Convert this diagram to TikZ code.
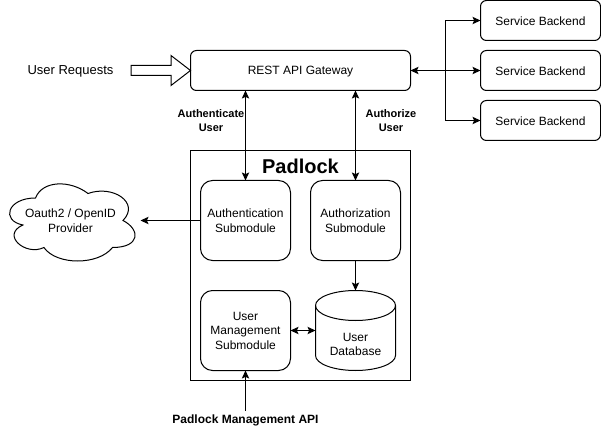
\documentclass[tikz,border=0pt]{standalone}
\usepackage{fontspec}
\setmainfont{Liberation Sans}
\usetikzlibrary{arrows.meta}
\tikzset{
  x=0.75pt,y=-0.75pt,
  every node/.style={inner sep=0pt,outer sep=0pt,align=center,font=\fontsize{9}{10.9}\selectfont},
  boxtext/.style={execute at begin node={\rule{0pt}{8pt}}},
  smallbox/.style={boxtext,draw=black,line width=0.75pt,rounded corners=4.5pt,minimum width=90pt,minimum height=30pt},
  subbox/.style={boxtext,draw=black,line width=0.75pt,rounded corners=9pt,minimum width=67.5pt,minimum height=60pt},
  gatewaybox/.style={boxtext,draw=black,line width=0.75pt,rounded corners=4.5pt,minimum width=165pt,minimum height=30pt},
  framebox/.style={draw=black,line width=0.75pt,minimum width=165pt,minimum height=172.5pt},
  shapeline/.style={draw=black,line width=0.75pt},
  link/.style={draw=black,line width=0.75pt,-{Stealth[length=6pt,width=5.5pt,inset=1.2pt]}},
  duplex/.style={draw=black,line width=0.75pt,{Stealth[length=6pt,width=5.5pt,inset=1.2pt]}-{Stealth[length=6pt,width=5.5pt,inset=1.2pt]}},
  branch/.style={draw=black,line width=0.75pt,-{Stealth[length=6pt,width=5.5pt,inset=1.2pt]},rounded corners=0pt},
  boldlabel/.style={font=\fontsize{8.25}{9.9}\selectfont\bfseries},
}
\begin{document}
\begin{tikzpicture}
\useasboundingbox (-0.5,-0.5) rectangle (600.5,427.5);
\fill[white] (-0.5,-0.5) rectangle (600.5,427.5);

\node[framebox] (padlock) at (300,265) {};
\node[font=\fontsize{15}{18}\selectfont\bfseries] (padlocktitle) at (300,166) {Padlock};

\node[gatewaybox] (gateway) at (300,70) {REST API Gateway};
\node[smallbox] (svc1) at (540,20) {Service Backend};
\node[smallbox] (svc2) at (540,70) {Service Backend};
\node[smallbox] (svc3) at (540,120) {Service Backend};

\node[subbox] (authn) at (245,220) {Authentication\\Submodule};
\node[subbox] (authz) at (355,220) {Authorization\\Submodule};
\node[subbox] (mgmt) at (245,330) {User\\Management\\Submodule};

% cylinder
\path[shapeline,fill=white] (315,305) -- (315,355) arc[start angle=180,end angle=360,x radius=40,y radius=-15]
  -- (395,305) arc[start angle=0,end angle=180,x radius=40,y radius=-15] -- cycle;
\path[shapeline] (315,305) arc[start angle=180,end angle=360,x radius=40,y radius=-15];
\node[minimum width=60pt,minimum height=60pt] (dbbox) at (355,330) {};
\node (dblabel) at (355,344) {User\\Database};

% cloud
\path[shapeline,fill=white]
  (35,197.5) .. controls (7,197.5) and (0,220) .. (22.4,224.5)
  .. controls (0,234.4) and (25.2,256) .. (43.4,247)
  .. controls (56,265) and (98,265) .. (112,247)
  .. controls (140,247) and (140,229) .. (122.5,220)
  .. controls (140,202) and (112,184) .. (87.5,193)
  .. controls (70,179.5) and (42,179.5) .. (35,197.5) -- cycle;
\node (cloud) at (70,220) {Oauth2 / OpenID\\Provider};
\coordinate (cloudend) at (140,220);

% input arrow
\path[shapeline,fill=white] (130.5,65) -- (170.5,65) -- (170.5,55) -- (190,70) -- (170.5,85) -- (170.5,75) -- (130.5,75) -- cycle;
\node[font=\fontsize{9.75}{12}\selectfont] (requests) at (70,71) {User Requests};

% connectors
\draw[duplex] (gateway.east) -- (svc2.west);
\coordinate (split) at (445,70);
\draw[branch] (split) |- (svc1.west);
\draw[branch] (split) |- (svc3.west);
\draw[duplex] (gateway.south -| authn.north) -- (authn.north);
\draw[duplex] (gateway.south -| authz.north) -- (authz.north);
\draw[link] (authz.south) -- (authz.south |- dbbox.north);
\draw[duplex] (mgmt.east) -- (dbbox.west);
\draw[link] (authn.west) -- (cloudend);
\node[boldlabel] (apilabel) at (245,420) {\fontsize{9}{11}\selectfont\bfseries Padlock Management API};
\coordinate (apistart) at (245,410);
\draw[link] (apistart) -- (mgmt.south);
\node[boldlabel] (authlabel) at (210.5,120) {Authenticate\\User};
\node[boldlabel] (azlabel) at (390.5,120) {Authorize\\User};
\end{tikzpicture}
\end{document}
